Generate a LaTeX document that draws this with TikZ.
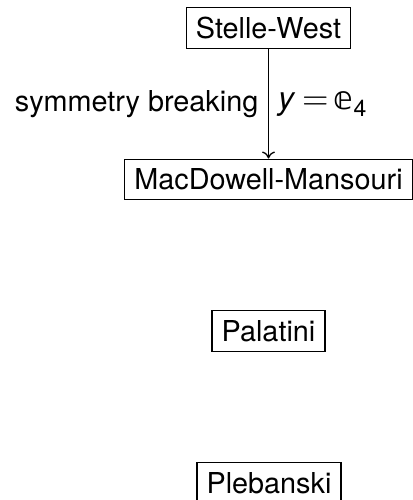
\documentclass[tikz,border=0pt]{standalone}
\usepackage{fontspec}
\setmainfont{TeX Gyre Heros}
\newfontfamily\dejavu{DejaVu Sans}
\newfontfamily\lmmath{Latin Modern Math}
\usetikzlibrary{arrows.meta}
\begin{document}
\begin{tikzpicture}[x=1pt,y=-1pt,
  every node/.style={font=\fontsize{28.8}{34}\selectfont},
  model/.style={draw,line width=1.3pt,inner sep=9.6pt},
  lbl/.style={inner sep=9.6pt},
  mathlbl/.style={inner sep=9pt,font=\fontsize{32}{38}\selectfont},
  link/.style={-{To[length=7pt,width=13pt,line width=1.3pt]},line width=1.3pt}]
  \useasboundingbox (0,0) rectangle (412,500);
  \node[model] (sw) at (268.5,28) {Stelle-West};
  \node[model] (mm) at (268.5,179.5) {MacDowell-Mansouri};
  \node[model] (pa) at (268.5,331) {Palatini};
  \node[model] (pl) at (269,483) {Plebanski};
  \draw[link] (sw) -- (mm)
    node[midway,left,lbl] {symmetry breaking}
    node[midway,right,mathlbl] {\textit{y}\hspace{7pt}{\lmmath\fontsize{34}{38}\selectfont =}\hspace{5pt}{\dejavu 𝕖}\raisebox{-7pt}{\fontsize{23}{26}\selectfont 4}};
\end{tikzpicture}
\end{document}
